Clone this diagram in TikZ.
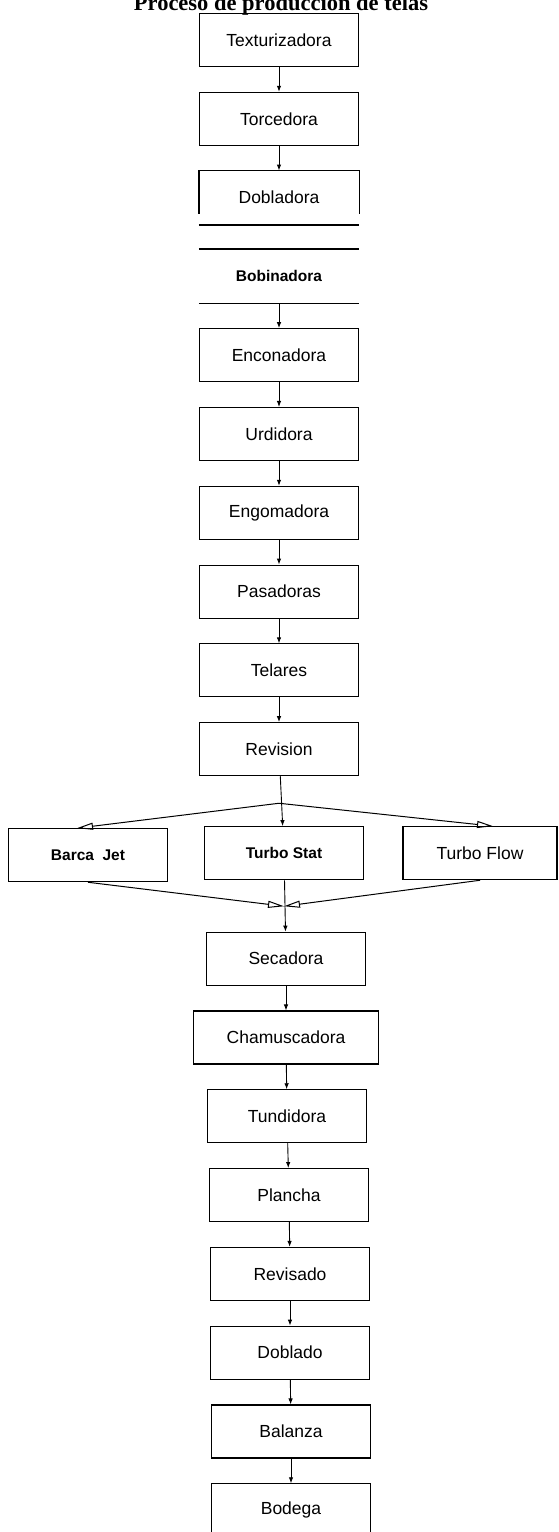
\documentclass[tikz,border=0pt]{standalone}
\usepackage{fontspec}
\setmainfont{Liberation Sans}
\newfontfamily\titulofont{Liberation Serif}
\usetikzlibrary{arrows.meta,positioning,calc}

\tikzset{
  paso/.style={draw, line width=1.1pt, minimum width=159pt, minimum height=53pt,
    inner sep=0pt, font=\fontsize{17.5}{20}\selectfont},
  pasob/.style={paso, font=\fontsize{15.5}{18}\selectfont\bfseries},
  flecha/.style={-{Latex[length=6pt,width=4.5pt]}, line width=0.9pt},
  rama/.style={-{Triangle[open,length=16pt,width=7pt]}, line width=1pt},
  raya/.style={line width=1.8pt}
}

\begin{document}
\begin{tikzpicture}[x=1pt, y=-1pt, node distance=78.8pt]
  \useasboundingbox (0,0) rectangle (558,1532);
  \node[font=\titulofont\fontsize{22.5}{26}\selectfont\bfseries, anchor=base] (titulo) at (281,10) {Proceso de producción de telas};

  \node[paso] (tex) at (279,40) {Texturizadora};
  \node[paso] (tor) [below of=tex] {Torcedora};
  \node[paso, draw=none] (dob) [below of=tor] {Dobladora};
  \node[pasob, draw=none] (bob) [below of=dob] {Bobinadora};
  \node[paso] (enc) [below of=bob] {Enconadora};
  \node[paso] (urd) [below of=enc] {Urdidora};
  \node[paso] (eng) [below of=urd] {Engomadora};
  \node[paso] (pas) [below of=eng] {Pasadoras};
  \node[paso] (tel) [below of=pas] {Telares};
  \node[paso] (rev) [below of=tel] {Revision};

  \node[pasob, node distance=104pt, xshift=5pt] (tst) [below of=rev] {Turbo Stat};
  \node[pasob, node distance=196pt, yshift=-2pt] (bj) [left of=tst] {Barca\ \ Jet};
  \node[paso, minimum width=154pt, node distance=196pt] (tfl) [right of=tst] {Turbo Flow};

  \node[paso, node distance=105.5pt, xshift=2pt] (sec) [below of=tst] {Secadora};
  \node[paso, minimum width=185pt] (cha) [below of=sec] {Chamuscadora};
  \node[paso, xshift=1pt] (tun) [below of=cha] {Tundidora};
  \node[paso, xshift=2pt] (pla) [below of=tun] {Plancha};
  \node[paso, xshift=1pt] (rvs) [below of=pla] {Revisado};
  \node[paso] (dbl) [below of=rvs] {Doblado};
  \node[paso, xshift=1pt] (bal) [below of=dbl] {Balanza};
  \node[paso] (bod) [below of=bal] {Bodega};

  % caja abierta y almacen
  \draw[line width=1.1pt] ($(dob.south west)+(0,-11)$) -- (dob.north west)
    -- (dob.north east) -- ($(dob.south east)+(0,-11)$);
  \draw[raya] (dob.south west) -- (dob.south east);
  \draw[raya] (bob.north west) -- (bob.north east);
  \draw[raya] (bob.south west) -- (bob.south east);

  \coordinate (div) at ($(rev.south)+(0,27)$);
  \coordinate (bjin) at ($(bj.north)+(-11,0)$);
  \coordinate (tflin) at ($(tfl.north)+(13,0)$);
  \coordinate (junta) at ($(tst.south)+(0,26)$);

  \path[flecha]
  (tex) edge (tor)
  (tor) edge (dob)
  (bob) edge (enc)
  (enc) edge (urd)
  (urd) edge (eng)
  (eng) edge (pas)
  (pas) edge (tel)
  (tel) edge (rev)
  (rev) edge (tst)
  (tst) edge (sec)
  (sec) edge (cha)
  (cha) edge (tun)
  (tun) edge (pla)
  (pla) edge (rvs)
  (rvs) edge (dbl)
  (dbl) edge (bal)
  (bal) edge (bod);

  \path[rama]
  (div) edge (bjin)
  (div) edge (tflin)
  (bj.south) edge (junta)
  (tfl.south) edge (junta);
\end{tikzpicture}
\end{document}
